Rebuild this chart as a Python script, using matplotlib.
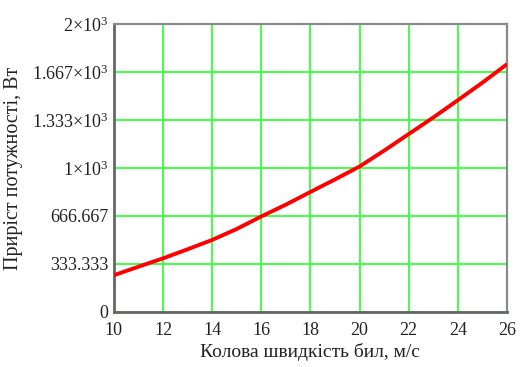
import matplotlib
matplotlib.use("Agg")
import matplotlib.pyplot as plt

plt.rcParams['font.family'] = ['Liberation Serif', 'DejaVu Serif']
plt.rcParams['mathtext.fontset'] = 'custom'
plt.rcParams['mathtext.rm'] = 'Liberation Serif'
plt.rcParams['mathtext.it'] = 'Liberation Serif:italic'

speed = [10, 11, 12, 13, 14, 15, 16, 17, 18, 19, 20, 21, 22, 23, 24, 25, 26]
power = [255, 314, 372, 435, 500, 576, 663, 745, 833, 920, 1010, 1120, 1235, 1350, 1470, 1592, 1720]

xticks = [10, 12, 14, 16, 18, 20, 22, 24, 26]
yticks = [0, 333.333, 666.667, 1000, 1333.333, 1666.667, 2000]
ylabels = ['0', '333.333', '666.667', r'1$\times$10$^{3}$', r'1.333$\times$10$^{3}$',
           r'1.667$\times$10$^{3}$', r'2$\times$10$^{3}$']

fig = plt.figure(figsize=(5.2, 3.67), dpi=100)
ax = fig.add_axes([0.219, 0.150, 0.756, 0.785])
ax.plot(speed, power, color='#ff0000', lw=2.8, solid_capstyle='butt', zorder=3)
ax.set_xlim(10, 26)
ax.set_ylim(0, 2000)
ax.set_xticks(xticks)
ax.set_xticklabels([str(t) for t in xticks])
ax.set_yticks(yticks)
ax.set_yticklabels(ylabels)
ax.grid(True, color='#33ff33', lw=1.3)
ax.tick_params(length=0, labelsize=13, colors='#222222')
ax.tick_params(axis='x', pad=7)
ax.tick_params(axis='y', pad=4)
for s in ['left', 'bottom']:
    ax.spines[s].set_color('#666666')
    ax.spines[s].set_linewidth(2.0)
for s in ['top', 'right']:
    ax.spines[s].set_color('#8a8a8a')
    ax.spines[s].set_linewidth(1.6)
ax.set_xlabel('Колова швидкість бил, м/с', fontsize=14, labelpad=3, color='#222222')
ax.set_ylabel('Приріст потужності, Вт', fontsize=14.5, labelpad=6, color='#222222')
fig.savefig('out.png', dpi=100)
